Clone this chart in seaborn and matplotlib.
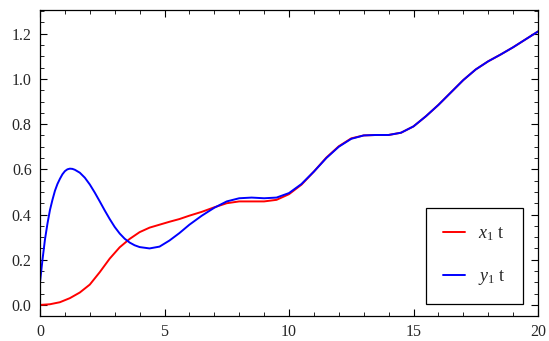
import matplotlib
matplotlib.use("Agg")
import matplotlib.pyplot as plt
import seaborn as sns
import pandas as pd
from matplotlib.ticker import MultipleLocator

# ---- data ----
t_red = [0, 0.4, 0.8, 1.2, 1.6, 2.0, 2.4, 2.8, 3.2, 3.6, 4.0, 4.4, 4.8, 5.2, 5.6,
         6.0, 6.5, 7.0, 7.5, 8.0, 8.5, 9.0, 9.5, 10, 10.5, 11, 11.5, 12, 12.5,
         13, 13.5, 14, 14.5, 15, 15.5, 16, 16.5, 17, 17.5, 18, 18.5, 19, 19.5, 20]
x1 = [0.0, 0.003, 0.012, 0.03, 0.055, 0.09, 0.145, 0.205, 0.255, 0.292, 0.322, 0.342,
      0.355, 0.368, 0.38, 0.395, 0.412, 0.432, 0.45, 0.458, 0.458, 0.458, 0.465,
      0.49, 0.532, 0.59, 0.652, 0.702, 0.737, 0.75, 0.752, 0.752, 0.762, 0.79,
      0.835, 0.885, 0.94, 0.995, 1.042, 1.078, 1.108, 1.14, 1.175, 1.21]

t_blue = [0, 0.05, 0.1, 0.2, 0.3, 0.4, 0.5, 0.6, 0.7, 0.8, 0.9, 1.0, 1.1, 1.2, 1.3,
          1.4, 1.6, 1.8, 2.0, 2.2, 2.4, 2.6, 2.8, 3.0, 3.2, 3.4, 3.6, 3.8,
          4.0, 4.4, 4.8, 5.2, 5.6, 6.0, 6.5, 7.0, 7.5, 8.0, 8.5, 9.0, 9.5, 10,
          10.5, 11, 11.5, 12, 12.5, 13, 13.5, 14, 14.5, 15, 15.5, 16, 16.5, 17,
          17.5, 18, 18.5, 19, 19.5, 20]
y1 = [0.10, 0.15, 0.20, 0.29, 0.36, 0.42, 0.465, 0.505, 0.535, 0.558, 0.578, 0.592,
      0.6, 0.603, 0.602, 0.598, 0.585, 0.563, 0.533, 0.497, 0.458, 0.418, 0.38,
      0.345, 0.316, 0.293, 0.276, 0.264, 0.256, 0.25, 0.258, 0.285, 0.318, 0.355,
      0.395, 0.43, 0.458, 0.472, 0.475, 0.472, 0.475, 0.495, 0.535, 0.59, 0.65,
      0.70, 0.735, 0.75, 0.752, 0.752, 0.762, 0.79, 0.835, 0.885, 0.94, 0.995,
      1.042, 1.078, 1.108, 1.14, 1.175, 1.21]

labels = [r"$x_1$ t", r"$y_1$ t"]
colors = ["#ff0000", "#0000ff"]

sns.set_style("ticks")
plt.rcParams["font.family"] = ["Liberation Serif", "DejaVu Serif"]
plt.rcParams["mathtext.fontset"] = "custom"
plt.rcParams["mathtext.it"] = "Liberation Serif:italic"
plt.rcParams["mathtext.rm"] = "Liberation Serif"

df = pd.concat([
    pd.DataFrame({"t": t_red, "v": x1, "s": labels[0]}),
    pd.DataFrame({"t": t_blue, "v": y1, "s": labels[1]}),
])

fig = plt.figure(figsize=(5.49, 3.41), dpi=100)
ax = fig.add_axes([40 / 549, 25 / 341, 498 / 549, 306 / 341])
sns.lineplot(data=df, x="t", y="v", hue="s", palette=colors, ax=ax,
             linewidth=1.4, legend=True)

ax.set_xlim(0, 20)
ax.set_ylim(-0.049, 1.305)
ax.xaxis.set_major_locator(MultipleLocator(5))
ax.xaxis.set_minor_locator(MultipleLocator(1))
ax.yaxis.set_major_locator(MultipleLocator(0.2))
ax.yaxis.set_minor_locator(MultipleLocator(0.05))
ax.yaxis.set_major_formatter(matplotlib.ticker.FormatStrFormatter("%.1f"))
ax.tick_params(which="both", direction="in", top=True, right=True,
               labelsize=11.5, color="black")
ax.tick_params(which="major", length=5, width=0.8, pad=6)
ax.tick_params(which="minor", length=3, width=0.6)
for sp in ax.spines.values():
    sp.set_visible(True)
    sp.set_color("black")
    sp.set_linewidth(0.9)
ax.set_xlabel("")
ax.set_ylabel("")

leg = ax.legend(loc="lower right", bbox_to_anchor=(0.970, 0.039), fontsize=13,
                frameon=True, fancybox=False, edgecolor="black",
                handlelength=1.2, labelspacing=1.4, borderpad=0.95,
                handletextpad=0.75, borderaxespad=0)
leg.get_frame().set_linewidth(0.9)
leg.get_frame().set_alpha(1)

fig.savefig("out.png", dpi=100)
